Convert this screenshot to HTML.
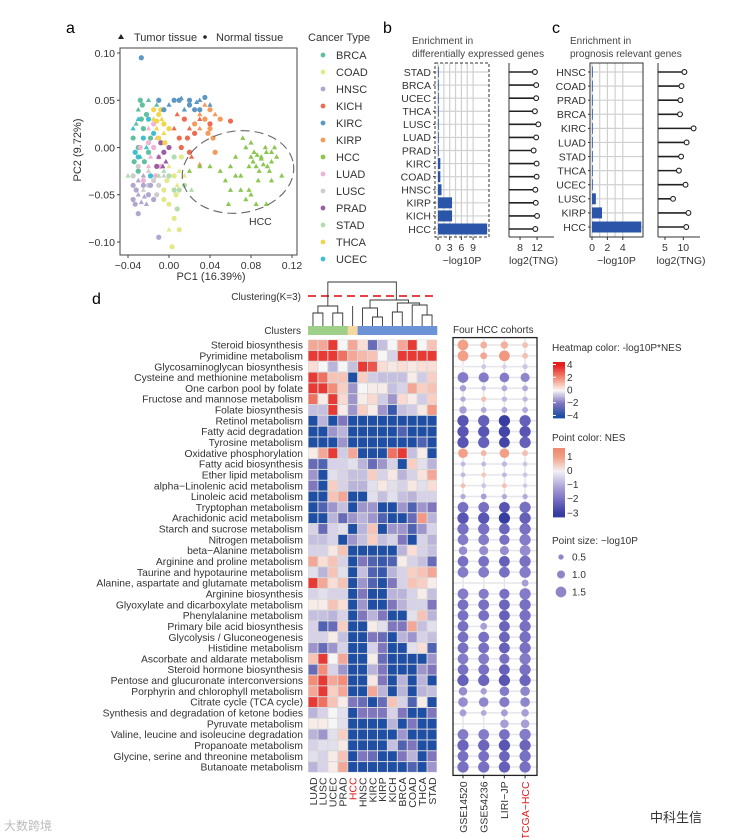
<!DOCTYPE html>
<html><head><meta charset="utf-8">
<style>
html,body{margin:0;padding:0;background:#fff;}
svg{display:block;font-family:"Liberation Sans",Arial,sans-serif;}
</style></head>
<body>
<svg id="fig" width="733" height="838" viewBox="0 0 733 838" xmlns="http://www.w3.org/2000/svg">
<rect x="0" y="0" width="733" height="838" fill="#fff"/>
<g id="pa"></g>
<g id="pb"></g>
<g id="pc"></g>
<g id="pd"></g>
<g id="pdot"></g>
<g id="leg"></g>
<text x="650" y="822" font-size="13" fill="#333" font-family="'Liberation Sans','Noto Sans CJK SC',sans-serif">中科生信</text>
<text x="4" y="830" font-size="12" fill="#bbb" font-family="'Liberation Sans','Noto Sans CJK SC',sans-serif">大数跨境</text>
</svg>
<script>
// ---------- Panel a data ----------
const pcaTypes = ["BRCA","COAD","HNSC","KICH","KIRC","KIRP","HCC","LUAD","LUSC","PRAD","STAD","THCA","UCEC"];
const pcaColors = ["#5fbf9f","#e3e88a","#b2a6d1","#ee6a50","#5c97c3","#f59a58","#8cc64f","#f1b3d4","#cdcdcd","#9a5ea4","#b2dcae","#f1d64c","#3ebfcf"];
const ptsBRCA=[[-0.03,0.04],[-0.025,0.02],[-0.03,0.0],[-0.028,-0.01],[-0.022,0.035],[-0.018,0.01],[-0.032,0.025],[-0.026,0.045],[-0.02,-0.005],[-0.015,0.03],[-0.035,0.01],[-0.03,-0.025],[-0.012,0.045],[-0.024,-0.015],[-0.028,0.05],[-0.02,0.05],[-0.034,-0.015],[-0.027,0.03]];
const ptsCOAD=[[0.0,-0.02],[0.005,-0.03],[-0.005,-0.045],[0.01,-0.025],[0.0,-0.06],[0.005,-0.075],[0.0,-0.087],[0.01,-0.087],[0.003,-0.105],[0.008,-0.04],[-0.002,-0.035],[0.012,-0.01],[0.015,-0.03],[0.007,-0.05],[-0.005,-0.055]];
const ptsHNSC=[[-0.03,-0.05],[-0.035,-0.055],[-0.025,-0.04],[-0.03,-0.035],[-0.02,-0.05],[-0.032,-0.045],[-0.027,-0.058],[-0.018,-0.04],[-0.035,-0.04],[-0.022,-0.06],[-0.03,-0.07],[-0.01,-0.095],[-0.025,-0.03],[-0.015,-0.055],[-0.033,-0.06],[-0.024,-0.052]];
const ptsKICH=[[0.005,0.02],[0.01,0.01],[0.015,0.03],[0.02,0.02],[0.012,0.0],[0.025,0.015],[0.008,0.035],[0.06,0.028],[0.02,-0.005],[0.03,0.03],[0.018,0.01],[0.04,0.025],[0.022,-0.01]];
const ptsKIRC=[[0.0,0.045],[0.01,0.05],[0.02,0.045],[0.03,0.05],[0.035,0.053],[0.025,0.04],[0.015,0.04],[0.005,0.05],[-0.005,0.04],[0.04,0.045],[0.03,0.04],[0.02,0.05],[0.012,0.052],[-0.01,0.05],[-0.027,0.095],[0.027,0.048]];
const ptsKIRP=[[0.03,0.035],[0.035,0.03],[0.04,0.04],[0.045,0.035],[0.04,0.02],[0.025,0.025],[0.035,0.045],[0.043,0.01],[0.05,0.03],[0.03,0.02],[0.038,0.015],[0.045,-0.005],[0.03,-0.018]];
const ptsHCC=[[0.06,-0.02],[0.07,-0.03],[0.08,-0.01],[0.085,-0.02],[0.09,-0.01],[0.095,-0.005],[0.1,-0.015],[0.088,-0.025],[0.078,-0.02],[0.075,0.0],[0.092,-0.018],[0.105,-0.01],[0.098,-0.025],[0.083,-0.005],[0.07,-0.045],[0.075,-0.055],[0.08,-0.05],[0.065,-0.03],[0.055,-0.035],[0.085,-0.06],[0.095,-0.06],[0.11,-0.03],[0.05,-0.025],[0.072,0.01],[0.08,0.005],[0.094,0.0],[0.1,-0.035],[0.065,-0.01],[0.06,-0.045],[0.03,-0.02],[0.02,-0.025],[0.04,-0.02],[0.103,0.0],[0.087,-0.035],[0.058,-0.06],[0.078,-0.045],[0.09,-0.012],[0.096,-0.02],[0.082,-0.015],[0.086,-0.008],[0.1,-0.005]];
const ptsLUAD=[[-0.02,0.02],[-0.015,0.0],[-0.01,-0.01],[-0.02,-0.02],[-0.025,-0.035],[-0.015,0.025],[-0.012,0.01],[-0.02,0.005],[-0.008,-0.02],[-0.018,-0.01],[-0.028,0.0],[-0.013,-0.03]];
const ptsLUSC=[[-0.02,-0.025],[-0.03,-0.02],[-0.015,-0.035],[-0.025,-0.045],[-0.01,-0.04],[-0.02,-0.04],[-0.005,-0.03],[-0.035,-0.03],[-0.012,-0.05]];
const ptsPRAD=[[-0.01,-0.01],[-0.005,-0.005],[-0.008,0.005],[-0.003,-0.015],[0.0,0.0],[-0.012,-0.02],[-0.006,-0.02]];
const ptsSTAD=[[-0.005,-0.025],[0.005,-0.01],[0.0,-0.03],[-0.01,-0.03],[0.01,-0.045],[0.015,-0.04],[-0.04,-0.03],[0.008,-0.065],[0.02,-0.005],[0.022,-0.045],[0.005,-0.045]];
const ptsTHCA=[[-0.015,0.03],[-0.01,0.035],[-0.005,0.025],[-0.012,0.02],[-0.008,0.04],[-0.01,0.01],[-0.005,0.015],[0.0,0.02],[-0.015,0.04],[-0.007,0.03],[-0.012,0.028],[-0.004,0.005]];
const ptsUCEC=[[-0.03,0.03],[-0.02,0.03],[-0.025,0.01],[-0.035,0.02],[-0.015,0.015],[-0.03,-0.01],[-0.022,0.0],[-0.018,-0.03],[-0.033,-0.005]];
const pcaXTicks=[-0.04,0.00,0.04,0.08,0.12];
const pcaYTicks=[0.10,0.05,0.00,-0.05,-0.10];
// ---------- Panel b / c data ----------
const degCats=["STAD","BRCA","UCEC","THCA","LUSC","LUAD","PRAD","KIRC","COAD","HNSC","KIRP","KICH","HCC"];
const degLogP=[0.1,0.05,0.05,0.05,0.05,0.05,0.1,0.6,0.6,0.9,3.6,3.6,12.6];
const degTNG=[11.5,11.8,11.8,11.5,12.3,11.8,11.2,11.9,11.9,11.6,11.7,12.0,11.6];
const degPTicks=[0,3,6,9];
const degTTicks=[8,12];
const progCats=["HNSC","COAD","PRAD","BRCA","KIRC","LUAD","STAD","THCA","UCEC","LUSC","KIRP","HCC"];
const progLogP=[0.05,0.05,0.05,0.05,0.05,0.05,0.05,0.05,0.05,0.5,1.3,6.4];
const progTNG=[10.3,9.5,9.2,9.1,12.8,10.9,9.4,8.8,10.6,7.2,11.4,10.8];
const progPTicks=[0,2,4];
const progTTicks=[5,10];
// ---------- Panel d data ----------
const hmCols=["LUAD","LUSC","UCEC","PRAD","HCC","HNSC","KIRC","KIRP","KICH","BRCA","COAD","THCA","STAD"];
const hmClusters=[1,1,1,1,2,3,3,3,3,3,3,3,3];
const pathways=["Steroid biosynthesis","Pyrimidine metabolism","Glycosaminoglycan biosynthesis","Cysteine and methionine metabolism","One carbon pool by folate","Fructose and mannose metabolism","Folate biosynthesis","Retinol metabolism","Fatty acid degradation","Tyrosine metabolism","Oxidative phosphorylation","Fatty acid biosynthesis","Ether lipid metabolism","alpha\u2212Linolenic acid metabolism","Linoleic acid metabolism","Tryptophan metabolism","Arachidonic acid metabolism","Starch and sucrose metabolism","Nitrogen metabolism","beta\u2212Alanine metabolism","Arginine and proline metabolism","Taurine and hypotaurine metabolism","Alanine, aspartate and glutamate metabolism","Arginine biosynthesis","Glyoxylate and dicarboxylate metabolism","Phenylalanine metabolism","Primary bile acid biosynthesis","Glycolysis / Gluconeogenesis","Histidine metabolism","Ascorbate and aldarate metabolism","Steroid hormone biosynthesis","Pentose and glucuronate interconversions","Porphyrin and chlorophyll metabolism","Citrate cycle (TCA cycle)","Synthesis and degradation of ketone bodies","Pyruvate metabolism","Valine, leucine and isoleucine degradation","Propanoate metabolism","Glycine, serine and threonine metabolism","Butanoate metabolism"];
const hmValues=[
[1.5,1.5,3.5,0,1.5,0.5,-2.5,-0.8,0,1.5,3.5,0,1],
[3.5,3.5,3.5,2.5,1.5,1.2,1,0,-0.5,3.5,3.5,3.5,3.5],
[0.5,0,-1,0,-0.8,3.5,3,0.5,0.3,0.5,0.3,0.5,0.5],
[3.5,2.5,1,1,-4,0.8,-0.6,-0.8,-0.8,-0.8,0.2,-0.6,0.8],
[3.5,3.5,2,0.8,-1.5,0,0.2,0.2,-0.8,-0.5,1.5,0.8,1],
[2.5,0.2,3.5,0.6,-1.5,0.2,0.6,-0.6,-1.5,0.6,0.2,-0.6,0.8],
[-0.8,-0.8,3.5,0.2,-1.5,0.8,0.2,-1.5,-3.5,-0.8,-0.6,0.3,1.8],
[-4,-1,-4,-2,-4,-4,-4,-4,-4,-4,-4,-4,-4],
[-4,-4,-1.5,-1,-4,-4,-4,-4,-4,-3,-4,-4,-4],
[-4,-4,-4,-1.5,-4,-4,-4,-4,-4,-4,-4,-3,-4],
[0.2,1.5,3.5,-0.6,1.5,-4,-4,-4,2.5,3.5,-0.8,0.2,-4],
[-2.5,-3,-0.5,-0.5,-0.3,-1,-2.5,-1.5,-0.5,-4,0.8,-0.3,-1],
[-1.5,-4,-0.3,-0.5,-0.8,-0.8,0.8,-0.5,0.3,-1,-0.5,0.4,1.5],
[-2,-4,0.8,-0.5,-1,-1,-0.3,0.3,-0.3,-0.5,0.3,-0.3,0.5],
[-4,-4,1,1.5,-4,-4,-0.3,-0.8,-0.3,-0.8,-1,-0.5,-0.5],
[-4,-3,-1.5,-0.8,-4,-1.5,-1.5,-4,-4,-1.5,-3,-1.5,-2],
[-4,-4,-1,-2.5,-1.5,-1,-1.5,-3,-4,-4,-2.5,1.8,-1],
[-0.5,-2.5,-0.5,-0.3,-4,-1,1,-4,-1.5,-1.5,-3,-1.5,-0.5],
[-0.8,-0.8,-0.5,-4,-1.5,-0.8,0.8,-0.8,-0.5,-2,-4,-0.5,-1],
[-0.5,-0.5,0.3,1,-4,-4,-4,-4,-4,-1,0.5,-0.5,-0.8],
[1.5,0.5,1,-0.5,-4,-2,-3,-3.5,-3,0.2,-0.5,-0.8,-2.5],
[-0.3,-1,1,-0.3,-4,-0.8,-3,-3.5,-1,-0.5,0.8,1,1.5],
[3.5,1.5,0.5,1,-4,-1.5,-3,-4,-2,-0.5,1,0.8,0.2],
[-0.5,-0.3,-0.5,-0.5,-4,-2,-4,-4,-1,-1,-0.5,0.2,-0.8],
[0.2,0.2,1,0.5,-4,-1.5,-4,-4,-2,-1,-0.5,-0.5,-2],
[-0.8,-0.8,-1,-0.5,-4,-2,-1,-2,-4,-4,-0.3,1,-1],
[-0.5,-3,-2.5,0.8,-4,-4,0.2,-0.3,-2,-2,1.5,-0.8,-0.3],
[-0.5,-0.5,0.2,-0.8,-4,-4,-2,-2.5,-4,-1,-1.5,-0.5,-0.8],
[-1.5,-2.5,-1.5,-0.5,-4,-4,-0.5,-2,-4,-4,-0.3,0.5,-3],
[1,3.5,0,1.5,-4,-4,0.2,-2.5,-4,-4,-4,-4,-1.5],
[-2.5,2,-0.5,-1.5,-4,-4,-1,-2,-4,-4,-4,-1.5,-2],
[2,3.5,1.5,2,-4,-4,0.3,-2,-4,-1,-4,-1,-4],
[1.5,3.5,0.8,1.5,-4,-4,1.5,-1,-4,-1,-4,-1,-0.8],
[3.5,2.5,1,0.2,-2,-2.5,-4,-2.5,1,-0.5,-3,0.2,-4],
[-1,-0.5,0,-0.3,-4,-2,-2,-2,-0.5,-2,-4,-4,-2],
[0.2,0.2,0,-0.3,-4,-4,-4,-4,-1,-4,-2,-4,-4],
[-1,-1.5,-0.3,0.8,-4,-4,-4,-4,-4,-1.5,-4,-4,-4],
[-0.5,-0.3,-0.3,0.3,-4,-4,-4,-4,-0.8,-3,-2,-4,-4],
[-0.3,-0.5,0.2,1,-4,-2,-2.5,-4,-4,-2,-1,-4,-2],
[-1,-0.5,0.2,1.5,-4,-4,-4,-4,-4,-4,-3,-4,-1.5]];
const cohorts=["GSE14520","GSE54236","LIRI\u2212JP","TCGA\u2212HCC"];
const cohortNES=[
[1,0.8,0.8,0.6],[1,0.9,1.2,0.6],[0,-0.6,-0.4,-0.6],[-1.8,-1.8,-1.8,-1.6],[-1.2,-0.8,-1,-1],
[-1,0.6,-0.8,-0.8],[-1.2,-1,-1,-1],[-2.5,-2.3,-3,-2.3],[-2.5,-2.5,-2.8,-2.5],[-2.5,-2.3,-2.8,-2.3],
[1,0.7,1,0.6],[-0.8,-0.8,-0.8,-0.6],[-0.8,0.5,-0.8,-0.6],[0.6,-0.6,0.6,-0.6],[-1,-1.2,-1,-1],
[-2,-2,-2.5,-2],[-2.5,-2.5,-3,-2.3],[-2,-2,-2.2,-2],[-1.8,-1.8,-2,-1.8],[-1.5,-1.5,-1.5,-1.5],
[-2,-2,-2.3,-2],[-1.8,-1.8,-2,-1.8],[0,0,0,-1.2],[-1.8,-1.8,-2,-1.8],[-2,-2,-2.2,-2],
[-2,-2,-2.3,-2],[-2,-1.2,-2.2,-2],[-2,-2,-2.2,-2],[-2,-2,-2.3,-2],[-1.8,-1.8,-2,-1.8],
[-2,-2,-2.3,-2],[-2.3,-2.2,-2.5,-2.2],[-1.5,-1.2,-1.8,-1.6],[-1.5,-1.6,-1.8,-1.6],[-1.2,-1,-1.2,-1.2],
[0,0,-1.2,-1.2],[-1.8,-1.8,-2,-1.8],[-2.2,-2.2,-2.5,-2.2],[-2,-2,-2.2,-2],[-2,-2,-2.3,-2]];
const cohortLogP=[
[1.5,0.8,0.9,0.6],[1.5,0.8,1.5,0.6],[0.1,0.4,0.4,0.5],[1.5,1.4,1.3,1.2],[0.7,0.4,0.6,0.6],
[0.5,0.5,0.5,0.5],[0.9,0.6,0.6,0.6],[1.6,1.6,1.6,1.6],[1.6,1.6,1.6,1.6],[1.6,1.6,1.5,1.6],
[1.3,0.6,1.3,0.6],[0.4,0.4,0.5,0.4],[0.4,0.4,0.4,0.4],[0.4,0.4,0.4,0.3],[0.5,0.6,0.5,0.5],
[1.5,1.5,1.5,1.6],[1.6,1.6,1.6,1.6],[1.6,1.6,1.5,1.6],[1.5,1.5,1.4,1.6],[1.1,1.2,1.2,1.5],
[1.5,1.5,1.5,1.6],[1.5,1.5,1.5,1.6],[0,0,0,0.8],[1.5,1.4,1.4,1.6],[1.5,1.5,1.5,1.6],
[1.5,1.5,1.5,1.6],[1.5,0.8,1.5,1.6],[1.5,1.5,1.5,1.6],[1.5,1.5,1.5,1.6],[1.5,1.5,1.4,1.6],
[1.5,1.5,1.5,1.6],[1.6,1.6,1.6,1.6],[1.1,0.7,1.3,1.3],[1.3,1.3,1.4,1.3],[0.8,0.6,0.8,0.9],
[0,0,1.1,1.1],[1.5,1.5,1.5,1.6],[1.6,1.6,1.6,1.6],[1.5,1.5,1.5,1.6],[1.6,1.6,1.6,1.6]];
const heatLegTicks=[4,2,0,-2,-4];
const nesLegTicks=[1,0,-1,-2,-3];
const sizeLegTicks=[0.5,1.0,1.5];
</script>
<script>
const NS="http://www.w3.org/2000/svg";
function mk(parent,tag,attrs,txt){const e=document.createElementNS(NS,tag);for(const k in attrs)e.setAttribute(k,attrs[k]);if(txt!==undefined)e.textContent=txt;parent.appendChild(e);return e;}
function lerpC(a,b,t){return "rgb("+a.map((v,i)=>Math.round(v+(b[i]-v)*t)).join(",")+")";}
function scaleColor(v,stops){for(let i=0;i<stops.length-1;i++){const[s0,c0]=stops[i],[s1,c1]=stops[i+1];if(v<=s1||i===stops.length-2){let t=(v-s0)/(s1-s0);t=Math.max(0,Math.min(1,t));return lerpC(c0,c1,t);}}}
const heatStops=[[-4,[31,78,165]],[-2,[128,118,190]],[-0.5,[215,210,232]],[0,[246,246,246]],[0.5,[250,222,214]],[2,[243,140,120]],[4,[228,30,30]]];
const nesStops=[[-3,[55,60,160]],[-2,[120,112,195]],[-1,[178,170,218]],[0,[244,240,246]],[1,[242,160,136]],[1.5,[238,140,115]]];
const heatColor=v=>scaleColor(v,heatStops);
const nesColor=v=>scaleColor(v,nesStops);

// ================= Panel A =================
const pa=document.getElementById('pa');
const ax={x0:128,x1:292,vmin:-0.04,vmax:0.12};
const ay={y0:53,y1:242,vmax:0.10,vmin:-0.10};
const sx=v=>ax.x0+(v-ax.vmin)/(ax.vmax-ax.vmin)*(ax.x1-ax.x0);
const sy=v=>ay.y0+(ay.vmax-v)/(ay.vmax-ay.vmin)*(ay.y1-ay.y0);
let t=mk(pa,'text',{x:66,y:33,'font-size':16},'a');


let r=mk(pa,'rect',{x:120,y:48,width:177,height:207,fill:'none',stroke:'#444','stroke-width':1});


const ptsByType=[ptsBRCA,ptsCOAD,ptsHNSC,ptsKICH,ptsKIRC,ptsKIRP,ptsHCC,ptsLUAD,ptsLUSC,ptsPRAD,ptsSTAD,ptsTHCA,ptsUCEC];
const drawOrder=[0,12,7,8,1,2,9,10,11,3,5,4,6];
drawOrder.forEach(ti=>{
  const g=mk(pa,'g',{});
  
  
  ptsByType[ti].forEach((p,j)=>{
    const cx=sx(p[0]),cy=sy(p[1]);
    let m;
    if(j%3===0||ti===6){m=mk(g,'path',{d:`M${cx},${cy-2.8}L${cx+2.6},${cy+1.8}L${cx-2.6},${cy+1.8}Z`,fill:pcaColors[ti]});}
    else{m=mk(g,'circle',{cx:cx,cy:cy,r:2.6,fill:pcaColors[ti]});}
    
    
  });
});
let el=mk(pa,'ellipse',{cx:238,cy:172,rx:56,ry:41,fill:'none',stroke:'#666','stroke-width':1.1,'stroke-dasharray':'9,5',transform:'rotate(-8 238 172)'});


t=mk(pa,'text',{x:249,y:225,'font-size':10.5,fill:'#333'},'HCC');


pcaXTicks.forEach(v=>{
  const l=mk(pa,'line',{x1:sx(v),x2:sx(v),y1:255,y2:258,stroke:'#444'});
  
  
  const tx=mk(pa,'text',{x:sx(v),y:269,'font-size':10.5,'text-anchor':'middle',fill:'#333'},(v<0?'\u2212':'')+Math.abs(v).toFixed(2));
  
  
});
pcaYTicks.forEach(v=>{
  const l=mk(pa,'line',{x1:117,x2:120,y1:sy(v),y2:sy(v),stroke:'#444'});
  
  
  const tx=mk(pa,'text',{x:115,y:sy(v)+3.8,'font-size':10.5,'text-anchor':'end',fill:'#333'},(v<0?'\u2212':'')+Math.abs(v).toFixed(2));
  
  
});
t=mk(pa,'text',{x:211,y:280,'font-size':11,'text-anchor':'middle',fill:'#333'},'PC1 (16.39%)');


t=mk(pa,'text',{x:0,y:0,'font-size':11,'text-anchor':'middle',fill:'#333',transform:'translate(81,150) rotate(-90)'},'PC2 (9.72%)');


let sh=mk(pa,'path',{d:'M121,34L124,39L118,39Z',fill:'#222'});


t=mk(pa,'text',{x:134,y:41,'font-size':11,fill:'#333'},'Tumor tissue');


sh=mk(pa,'circle',{cx:205,cy:37,r:1.8,fill:'#222'});


t=mk(pa,'text',{x:216,y:41,'font-size':11,fill:'#333'},'Normal tissue');


t=mk(pa,'text',{x:308,y:41,'font-size':11,fill:'#333'},'Cancer Type');


pcaTypes.forEach((n,i)=>{
  const y=55+i*17;
  const g=mk(pa,'g',{});
  
  
  mk(g,'circle',{cx:323,cy:y,r:2.4,fill:pcaColors[i]});
  mk(g,'text',{x:336,y:y+4,'font-size':11,fill:'#333'},n);
});

// ================= Panels B & C =================
function enrichPanel(gid,letter,lx,tx,cats,logp,tng,pTicks,tTicks,box,lol,dashed){
  const g=document.getElementById(gid);
  let tt=mk(g,'text',{x:lx,y:33,'font-size':16},letter);
  
  
  tt=mk(g,'text',{x:tx,y:44,'font-size':10,fill:'#444'},'Enrichment in');
  
  
  tt=mk(g,'text',{x:tx,y:57,'font-size':10,fill:'#444'},box.title2);
  
  
  const n=cats.length;
  const rowY=i=>box.yTop+(i)*(box.yBot-box.yTop)/(n-1);
  const bx=v=>box.x0+v*box.ppu;
  pTicks.forEach(v=>{const l=mk(g,'line',{x1:bx(v),x2:bx(v),y1:box.fy0,y2:box.fy1,stroke:'#d0d0d0','stroke-width':1.2});});
  for(let k=0;k<pTicks.length-1;k++){const v=(pTicks[k]+pTicks[k+1])/2;const l=mk(g,'line',{x1:bx(v),x2:bx(v),y1:box.fy0,y2:box.fy1,stroke:'#d0d0d0','stroke-width':1.2});}
  cats.forEach((c,i)=>{const l=mk(g,'line',{x1:box.fx0,x2:box.fx1,y1:rowY(i),y2:rowY(i),stroke:'#d0d0d0','stroke-width':1.2});});
  cats.forEach((c,i)=>{
    const b=mk(g,'rect',{x:box.x0,y:rowY(i)-5.5,width:Math.max(0.8,logp[i]*box.ppu),height:11,fill:'#2a55a8'});
    
    
    const lb=mk(g,'text',{x:box.fx0-4,y:rowY(i)+3.8,'font-size':10.5,'text-anchor':'end',fill:'#333'},c);
    
    
    const tk=mk(g,'line',{x1:box.fx0-2,x2:box.fx0,y1:rowY(i),y2:rowY(i),stroke:'#333'});
    
    
  });
  const fr=mk(g,'rect',{x:box.fx0,y:box.fy0,width:box.fx1-box.fx0,height:box.fy1-box.fy0,fill:'none',stroke:'#333','stroke-width':1,'stroke-dasharray':dashed?'3,2':'none'});
  
  
  pTicks.forEach(v=>{
    const l=mk(g,'line',{x1:bx(v),x2:bx(v),y1:box.fy1,y2:box.fy1+3,stroke:'#333'});
    
    
    const tl=mk(g,'text',{x:bx(v),y:box.fy1+14,'font-size':10.5,'text-anchor':'middle',fill:'#333'},String(v));
    
    
  });
  tt=mk(g,'text',{x:(box.fx0+box.fx1)/2,y:box.fy1+27,'font-size':10.5,'text-anchor':'middle',fill:'#333'},'\u2212log10P');
  
  
  const lx2=v=>lol.x0+(v-lol.vmin)*lol.ppu;
  const ax1=mk(g,'line',{x1:lol.x0,x2:lol.x0,y1:box.fy0,y2:box.fy1,stroke:'#333'});
  
  
  const ax2=mk(g,'line',{x1:lol.x0,x2:lol.x1,y1:box.fy1,y2:box.fy1,stroke:'#333'});
  
  
  cats.forEach((c,i)=>{
    const s=mk(g,'line',{x1:lol.x0,x2:lx2(tng[i]),y1:rowY(i),y2:rowY(i),stroke:'#222','stroke-width':1.6});
    
    
    const d=mk(g,'circle',{cx:lx2(tng[i]),cy:rowY(i),r:2.4,fill:'#fff',stroke:'#222','stroke-width':1.1});
    
    
  });
  tTicks.forEach(v=>{
    const l=mk(g,'line',{x1:lx2(v),x2:lx2(v),y1:box.fy1,y2:box.fy1+3,stroke:'#333'});
    
    
    const tl=mk(g,'text',{x:lx2(v),y:box.fy1+14,'font-size':10.5,'text-anchor':'middle',fill:'#333'},String(v));
    
    
  });
  tt=mk(g,'text',{x:(lol.x0+lol.x1)/2+2,y:box.fy1+27,'font-size':10.5,'text-anchor':'middle',fill:'#333'},'log2(TNG)');
  
  
}
enrichPanel('pb','b',383,412,degCats,degLogP,degTNG,degPTicks,degTTicks,
 {title2:'differentially expressed genes',yTop:72,yBot:229,x0:438,ppu:3.9,fx0:435,fx1:489,fy0:63,fy1:237},
 {x0:509,x1:554,vmin:5.4,ppu:4.25},true);
enrichPanel('pc','c',552,570,progCats,progLogP,progTNG,progPTicks,progTTicks,
 {title2:'prognosis relevant genes',yTop:72,yBot:227,x0:592,ppu:7.7,fx0:590,fx1:643,fy0:63,fy1:237},
 {x0:658,x1:700,vmin:3.1,ppu:3.67},false);

// ================= Panel D heatmap =================
const pd=document.getElementById('pd');
const hx0=308,cw=129/13,hy0=339.6,rh=10.82;
const colX=i=>hx0+i*cw;
const rowY=i=>hy0+i*rh;
t=mk(pd,'text',{x:92,y:304,'font-size':16},'d');


t=mk(pd,'text',{x:301,y:300,'font-size':10,'text-anchor':'end',fill:'#333'},'Clustering(K=3)');


let cut=mk(pd,'line',{x1:308,x2:437,y1:296,y2:296,stroke:'#e32a2a','stroke-width':1.8,'stroke-dasharray':'8,5'});


const cc=i=>colX(i)+cw/2;
const dend=mk(pd,'path',{fill:'none',stroke:'#333','stroke-width':0.9,d:
 `M${cc(0)},326V313H${cc(1)}V326 M${cc(2)},326V313H${cc(3)}V326 M${(cc(0)+cc(1))/2},313V306H${(cc(2)+cc(3))/2}V313 `+
 `M${(cc(0)+cc(3))/2},306V282H${(cc(4)+cc(12))/2+4}V300 M${cc(4)},326V306`+
 ` M${cc(6)},326V317H${cc(7)}V326 M${cc(5)},326V308H${(cc(6)+cc(7))/2}V317 M${cc(8)},326V312H${cc(9)}V326`+
 ` M${cc(11)},326V315H${cc(12)}V326 M${cc(10)},326V305H${(cc(11)+cc(12))/2}V315 M${(cc(8)+cc(9))/2},312V303H${(cc(10)+(cc(11)+cc(12))/2)/2}V305`+
 ` M${(cc(5)+(cc(6)+cc(7))/2)/2},308V300H${((cc(8)+cc(9))/2+(cc(10)+(cc(11)+cc(12))/2)/2)/2}V303`});


t=mk(pd,'text',{x:301,y:334,'font-size':10,'text-anchor':'end',fill:'#333'},'Clusters');


const clColors={1:'#9fd08a',2:'#f5d7a0',3:'#6b93d6'};
hmCols.forEach((c,i)=>{
  const b=mk(pd,'rect',{x:colX(i),y:326,width:cw+0.3,height:9,fill:clColors[hmClusters[i]]});
  
  
});
const hg=mk(pd,'g',{});


mk(hg,'rect',{x:hx0,y:hy0,width:129,height:rh*40,fill:'#d8d8d8'});
hmValues.forEach((row,ri)=>{
  row.forEach((v,ci)=>{
    const c=mk(hg,'rect',{x:colX(ci)+0.5,y:rowY(ri)+0.5,width:cw-1,height:rh-1,fill:heatColor(v)});
    
    
  });
});
pathways.forEach((p,i)=>{
  const tl=mk(pd,'text',{x:303,y:rowY(i)+rh/2+3.6,'font-size':10.3,'text-anchor':'end',fill:'#333'},p);
  
  
});
hmCols.forEach((c,i)=>{
  const tl=mk(pd,'text',{x:0,y:0,'font-size':10.5,'text-anchor':'end',fill:c==='HCC'?'#e02020':'#333',transform:`translate(${colX(i)+cw/2+3.8},${rowY(40)+5}) rotate(-90)`},c);
  
  
});

// ================= Dot plot =================
const pdot=document.getElementById('pdot');
const dx0=453,dx1=537;
const dotX=i=>463+i*20.7;
t=mk(pdot,'text',{x:453,y:333,'font-size':10,fill:'#333'},'Four HCC cohorts');


pathways.forEach((p,i)=>{
  const l=mk(pdot,'line',{x1:dx0,x2:dx1,y1:rowY(i)+rh/2,y2:rowY(i)+rh/2,stroke:'#e6e6ea','stroke-width':1.5});
  
  
});
cohorts.forEach((c,i)=>{
  const l=mk(pdot,'line',{x1:dotX(i),x2:dotX(i),y1:hy0-1,y2:rowY(40)+3,stroke:'#e6e6ea','stroke-width':1.5});
  
  
});
const rad=p=>p<=0.05?0:1.3+p*2.7;
cohortNES.forEach((row,ri)=>{
  row.forEach((v,ci)=>{
    const rr=rad(cohortLogP[ri][ci]);
    if(rr<=0)return;
    const d=mk(pdot,'circle',{cx:dotX(ci),cy:rowY(ri)+rh/2,r:rr,fill:nesColor(v)});
    
    
  });
});
let fr=mk(pdot,'rect',{x:dx0,y:hy0-2,width:dx1-dx0,height:rowY(40)-hy0+5,fill:'none',stroke:'#222','stroke-width':1.3});


cohorts.forEach((c,i)=>{
  const l=mk(pdot,'line',{x1:dotX(i),x2:dotX(i),y1:rowY(40)+3,y2:rowY(40)+6,stroke:'#222'});
  
  
  const tl=mk(pdot,'text',{x:0,y:0,'font-size':10.5,'text-anchor':'end',fill:c.indexOf('TCGA')===0?'#e02020':'#333',transform:`translate(${dotX(i)+3.8},${rowY(40)+9}) rotate(-90)`},c);
  
  
});

// ================= Legends =================
const leg=document.getElementById('leg');
t=mk(leg,'text',{x:552,y:351,'font-size':10,fill:'#333'},'Heatmap color: -log10P*NES');


const hb0=362,hb1=418;
const hby=v=>hb0+(4.4-v)/8.8*(hb1-hb0);
for(let k=0;k<40;k++){const v=4.4-k*8.8/40;const s=mk(leg,'rect',{x:553,y:hby(v),width:12,height:(hb1-hb0)/40+0.4,fill:heatColor(v)});}
heatLegTicks.forEach(v=>{
  const tl=mk(leg,'text',{x:567,y:hby(v)+3.5,'font-size':10,fill:'#333'},(v<0?'\u2212':'')+Math.abs(v));
  
  
  const l=mk(leg,'line',{x1:553,x2:556,y1:hby(v),y2:hby(v),stroke:'#fff'});
  
  
});
t=mk(leg,'text',{x:552,y:441,'font-size':10,fill:'#333'},'Point color: NES');


const nb0=448,nb1=517;
const nby=v=>nb0+(1.6-v)/4.9*(nb1-nb0);
for(let k=0;k<40;k++){const v=1.6-k*4.9/40;const s=mk(leg,'rect',{x:553,y:nby(v),width:12,height:(nb1-nb0)/40+0.4,fill:nesColor(v)});}
nesLegTicks.forEach(v=>{
  const tl=mk(leg,'text',{x:567,y:nby(v)+3.5,'font-size':10,fill:'#333'},(v<0?'\u2212':'')+Math.abs(v));
  
  
});
t=mk(leg,'text',{x:552,y:544,'font-size':10,fill:'#333'},'Point size: \u2212log10P');


sizeLegTicks.forEach((v,i)=>{
  const y=557+i*17.5;
  const d=mk(leg,'circle',{cx:561,cy:y,r:rad(v),fill:'#8f86c8'});
  
  
  const tl=mk(leg,'text',{x:572,y:y+3.5,'font-size':10,fill:'#333'},v.toFixed(1));
  
  
});
</script>
</body></html>
